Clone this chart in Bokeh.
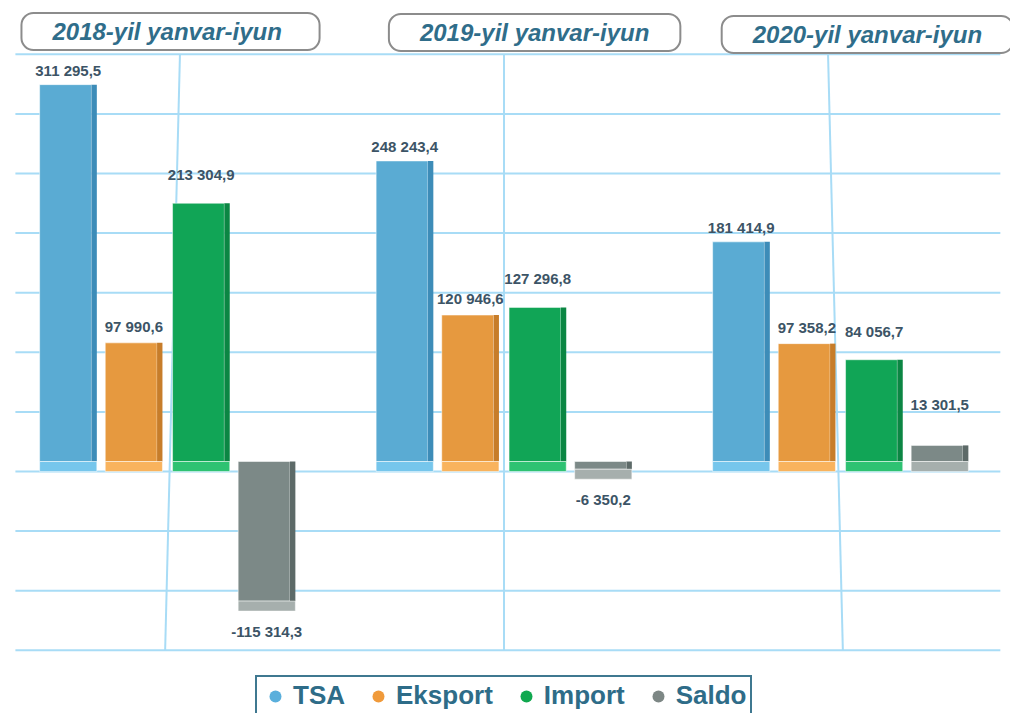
from bokeh.plotting import figure
from bokeh.models import Range1d, Label, Legend, LegendItem
from bokeh.core.properties import value
from bokeh.embed import file_html
from bokeh.resources import INLINE

# ---- data ----
periods = ["2018-yil  yanvar-iyun", "2019-yil yanvar-iyun", "2020-yil yanvar-iyun"]
series = ["TSA", "Eksport", "Import", "Saldo"]
tsa = [311295.5, 248243.4, 181414.9]
eksport = [97990.6, 120946.6, 97358.2]
imports = [213304.9, 127296.8, 84056.7]
saldo = [-115314.3, -6350.2, 13301.5]
grid_values = [-150000, -100000, -50000, 0, 50000, 100000, 150000, 200000, 250000, 300000, 350000]

values = [tsa, eksport, imports, saldo]

# ---- style ----
FONT = "Liberation Sans"
front_col = ["#5aabd3", "#e6993f", "#11a556", "#7c8987"]
side_col = ["#3d8cb8", "#c77d2a", "#0b8643", "#5d6a68"]
base_col = ["#76c6ec", "#f9b35d", "#2ec272", "#a6afad"]
legend_col = ["#5aafdc", "#f09a3a", "#10a84f", "#7d8785"]
offsets = [-0.295, -0.1, 0.1, 0.295]
label_dy_pos = [-6, -8, -20, -32]
label_dy_neg = [10, 12, 12, 12]
grid_col = "#a8dcf6"
label_col = "#3c5466"
title_col = "#2f6d8a"

W, H = 1010, 713
px_per_group = 336.5
xr = Range1d(-167 / px_per_group, (W - 167) / px_per_group)
back_zero, back_upp = 471, 50000 / 59.6
front_zero, front_upp = 461, 826.0

p = figure(width=W, height=H, x_range=xr,
           y_range=Range1d(-(H - back_zero) * back_upp, back_zero * back_upp),
           output_backend="svg", toolbar_location=None, min_border=0,
           x_axis_location=None, y_axis_location=None,
           outline_line_color=None, background_fill_color="white")
p.extra_y_ranges = {"front": Range1d(-(H - front_zero) * front_upp, front_zero * front_upp)}
p.xgrid.visible = False
p.ygrid.visible = False

# back-wall grid lines
p.segment(x0=[-0.452] * len(grid_values), x1=[2.475] * len(grid_values),
          y0=grid_values, y1=grid_values, line_color=grid_col, line_width=2)
gtop, gbot = max(grid_values), min(grid_values)
p.segment(x0=[g + (1 - g) * 0.037 for g in range(3)], x1=[g - (1 - g) * 0.007 for g in range(3)],
          y0=[gtop] * 3, y1=[gbot] * 3, line_color=grid_col, line_width=2)

plate = 10 * front_upp
hw = 0.085
side = 0.016
for i, vals in enumerate(values):
    xs = [g + offsets[i] for g in range(3)]
    lo = [min(0, v) for v in vals]
    hi = [max(0, v) for v in vals]
    p.quad(left=[x - hw for x in xs], right=[x + hw - side for x in xs], bottom=lo, top=hi,
           fill_color=front_col[i], line_color="white", line_width=1, line_alpha=0.5,
           y_range_name="front")
    p.quad(left=[x + hw - side for x in xs], right=[x + hw for x in xs], bottom=lo, top=hi,
           fill_color=side_col[i], line_color=None, y_range_name="front")
    p.quad(left=[x - hw for x in xs], right=[x + hw for x in xs],
           top=lo, bottom=[l - plate for l in lo],
           fill_color=base_col[i], line_color="white", line_width=1, line_alpha=0.5,
           y_range_name="front")
    fmt = [f"{v:,.1f}".replace(",", " ").replace(".", ",") for v in vals]
    pos = [k for k, v in enumerate(vals) if v >= 0]
    neg = [k for k, v in enumerate(vals) if v < 0]
    if pos:
        p.text(x=[xs[k] for k in pos], y=[vals[k] for k in pos], text=[fmt[k] for k in pos],
               y_offset=label_dy_pos[i], text_align="center", text_baseline="bottom",
               text_font=value(FONT), text_font_size="15px", text_font_style="bold",
               text_color=label_col, y_range_name="front")
    if neg:
        p.text(x=[xs[k] for k in neg], y=[vals[k] - plate for k in neg], text=[fmt[k] for k in neg],
               y_offset=label_dy_neg[i], text_align="center", text_baseline="top",
               text_font=value(FONT), text_font_size="15px", text_font_style="bold",
               text_color=label_col, y_range_name="front")

# period title boxes
title_x = [0.009, 1.091, 2.08]
title_y = [31, 32, 34]
for t, tx, ty in zip(periods, title_x, title_y):
    p.add_layout(Label(x=tx, y=H - ty, y_units="screen", text=t,
                       text_align="center", text_baseline="middle",
                       text_font=FONT, text_font_size="24px", text_font_style="bold italic",
                       text_color=title_col, background_fill_color="white",
                       border_line_color="#8c8c8c", border_line_width=2,
                       border_radius=12,
                       padding=dict(top=5, right=31, bottom=5, left=31)))

# legend
items = []
for i, s in enumerate(series):
    r = p.scatter(x=[-100], y=[-1e9], size=13, marker="circle", fill_color=legend_col[i], line_color=None)
    items.append(LegendItem(label=s, renderers=[r]))
legend = Legend(items=items, orientation="horizontal", location=(255, -3),
                label_text_font=FONT, label_text_font_size="26px", label_text_font_style="bold",
                label_text_color="#2e6c88", border_line_color="#3f7890", border_line_width=2,
                border_line_alpha=1.0,
                background_fill_color="white", glyph_width=30, glyph_height=30,
                label_standoff=3, spacing=18, padding=3, margin=0)
p.add_layout(legend, "center")

open("out.html", "w").write(file_html(p, INLINE))
